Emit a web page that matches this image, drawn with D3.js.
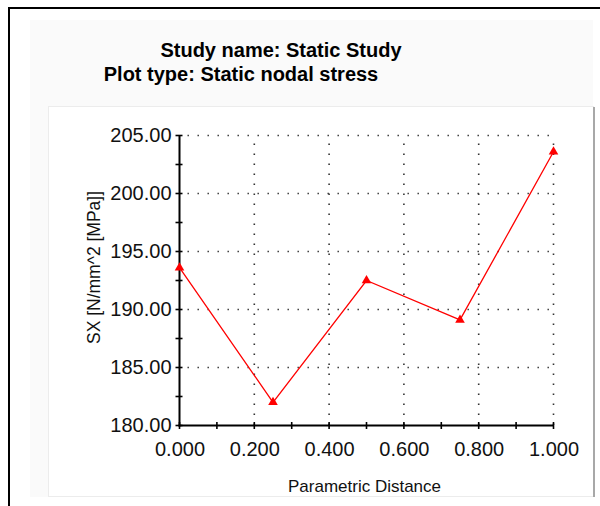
<!DOCTYPE html>
<html><head><meta charset="utf-8">
<script src="https://cdn.jsdelivr.net/npm/d3@7/dist/d3.min.js"></script>
<style>html,body{margin:0;padding:0;background:#fff;}svg{display:block;}</style>
</head><body>
<script>
const titleLines = ["Study name: Static Study", "Plot type: Static nodal stress"];
const xTitle = "Parametric Distance";
const yTitle = "SX [N/mm^2 [MPa]]";
const distances = [0, 0.25, 0.5, 0.75, 1.0];
const sxValues = [193.6, 182.0, 192.5, 189.1, 203.6];
const xTickValues = [0, 0.2, 0.4, 0.6, 0.8, 1.0];
const yTickValues = [180, 185, 190, 195, 200, 205];

const W = 600, H = 506;
const svg = d3.select("body").append("svg").attr("width", W).attr("height", H);
const font = "Arial, 'Liberation Sans', sans-serif";

// frame
svg.append("rect").attr("x", 30).attr("y", 20).attr("width", 563).attr("height", 477).attr("fill", "#fafafa");
svg.append("rect").attr("x", 48.5).attr("y", 106.5).attr("width", 545).attr("height", 390).attr("fill", "#fff").attr("stroke", "#ececec");
svg.append("line").attr("x1", 594).attr("x2", 594).attr("y1", 107).attr("y2", 497).attr("stroke", "#a8a8a8").attr("stroke-width", 2);
svg.append("line").attr("x1", 9).attr("x2", 9).attr("y1", 7).attr("y2", H).attr("stroke", "#000").attr("stroke-width", 2);
svg.append("line").attr("x1", 8).attr("x2", W).attr("y1", 8).attr("y2", 8).attr("stroke", "#000").attr("stroke-width", 2);

// titles
svg.append("text").attr("x", 281).attr("y", 57).attr("text-anchor", "middle")
  .attr("font-family", font).attr("font-weight", "bold").attr("font-size", 20).text(titleLines[0]);
svg.append("text").attr("x", 241).attr("y", 81).attr("text-anchor", "middle")
  .attr("font-family", font).attr("font-weight", "bold").attr("font-size", 20).text(titleLines[1]);

const x = d3.scaleLinear().domain([0, 1]).range([179.5, 553.5]);
const y = d3.scaleLinear().domain([180, 205]).range([425.5, 135.5]);

// grid
const grid = svg.append("g").attr("stroke", "#333").attr("stroke-width", 1.6).attr("stroke-dasharray", "1.4 8.6");
grid.selectAll("line.h").data(yTickValues.filter(v => v > 180)).join("line")
  .attr("x1", x(0) + 8).attr("x2", x(1)).attr("y1", d => y(d)).attr("y2", d => y(d));
grid.selectAll("line.v").data(xTickValues.filter(v => v > 0)).join("line")
  .attr("class", "v")
  .attr("x1", d => x(d)).attr("x2", d => x(d)).attr("y1", y(205) + 8).attr("y2", y(180));

// axes lines
svg.append("line").attr("x1", x(0)).attr("x2", x(0)).attr("y1", y(205)).attr("y2", y(180) + 1).attr("stroke", "#000").attr("stroke-width", 2);
svg.append("line").attr("x1", x(0) - 1).attr("x2", x(1)).attr("y1", y(180)).attr("y2", y(180)).attr("stroke", "#000").attr("stroke-width", 2);

// ticks
const yMinor = d3.range(180, 205.01, 2.5);
svg.append("g").selectAll("line").data(yMinor).join("line")
  .attr("x1", x(0) - 4).attr("x2", x(0) + 3).attr("y1", d => y(d)).attr("y2", d => y(d))
  .attr("stroke", "#000").attr("stroke-width", 1.6);
const xMinor = d3.range(0, 1.001, 0.1);
svg.append("g").selectAll("line").data(xMinor).join("line")
  .attr("x1", d => x(d)).attr("x2", d => x(d)).attr("y1", y(180) - 3.5).attr("y2", y(180) + 3.5)
  .attr("stroke", "#000").attr("stroke-width", 1.6);

// tick labels via axes
const yAxis = svg.append("g").attr("transform", `translate(${x(0)},0)`)
  .call(d3.axisLeft(y).tickValues(yTickValues).tickSize(0).tickPadding(8).tickFormat(d3.format(".2f")));
yAxis.select(".domain").remove();
yAxis.selectAll("text").attr("font-family", font).attr("font-size", 20).attr("fill", "#111");

const xAxis = svg.append("g").attr("transform", `translate(0,${y(180)})`)
  .call(d3.axisBottom(x).tickValues(xTickValues).tickSize(0).tickPadding(16).tickFormat(d3.format(".3f")));
xAxis.select(".domain").remove();
xAxis.selectAll("text").attr("font-family", font).attr("font-size", 20).attr("fill", "#111");

// axis titles
svg.append("text").attr("x", 364.5).attr("y", 492).attr("text-anchor", "middle")
  .attr("font-family", font).attr("font-size", 17).attr("fill", "#111").text(xTitle);
svg.append("text").attr("transform", "translate(100,267.5) rotate(-90)").attr("text-anchor", "middle")
  .attr("font-family", font).attr("font-size", 17.5).attr("fill", "#111").text(yTitle);

// series
const pts = distances.map((d, i) => [d, sxValues[i]]);
svg.append("path").datum(pts)
  .attr("d", d3.line().x(d => x(d[0])).y(d => y(d[1])))
  .attr("fill", "none").attr("stroke", "#ff0000").attr("stroke-width", 1.3);
svg.append("g").selectAll("path").data(pts).join("path")
  .attr("transform", d => `translate(${x(d[0])},${y(d[1])})`)
  .attr("d", d3.symbol(d3.symbolTriangle, 40))
  .attr("fill", "#ff0000");
</script>
</body></html>
